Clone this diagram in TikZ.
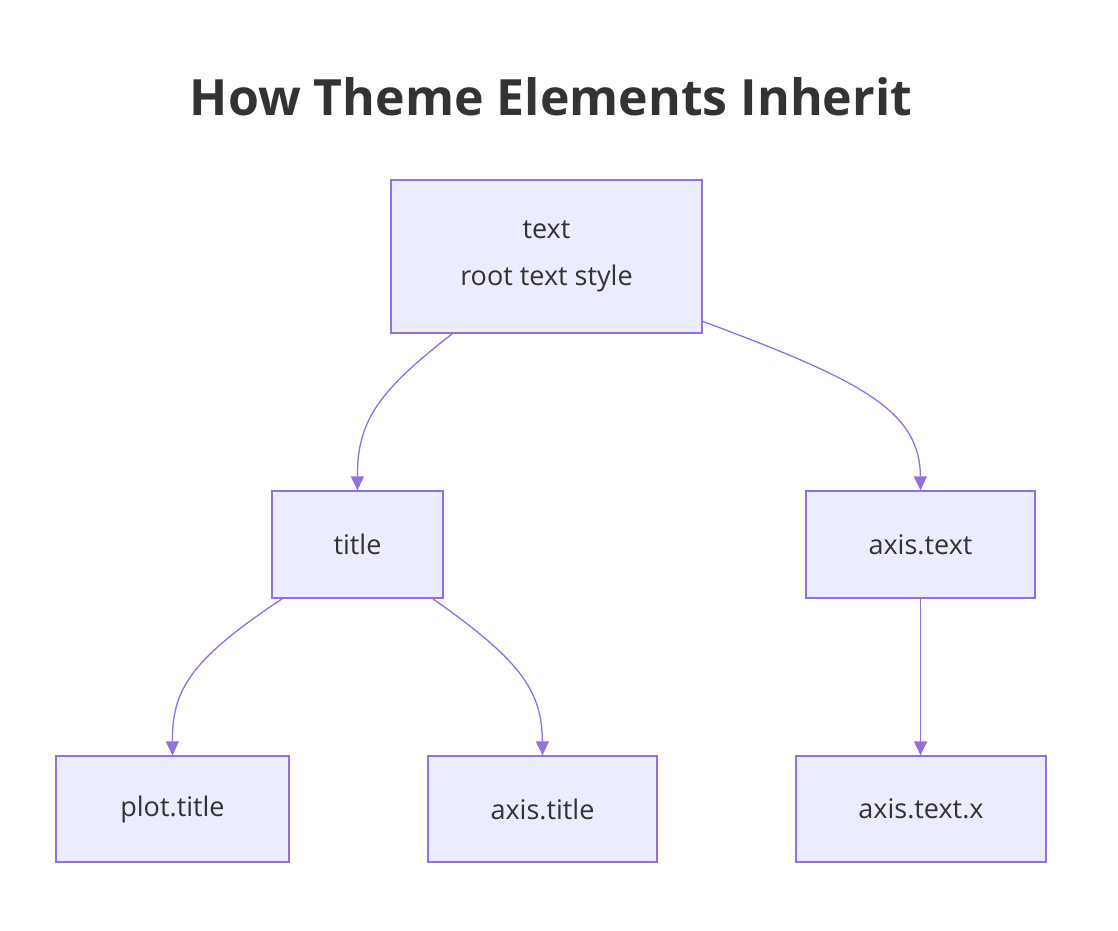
\documentclass[tikz,border=0pt]{standalone}
\usepackage{fontspec}
\setmainfont{Open Sans}
\usetikzlibrary{calc,arrows.meta}
\definecolor{bx}{HTML}{ECECFF}
\definecolor{ln}{HTML}{9370DB}
\definecolor{tx}{HTML}{333333}
\begin{document}
\begin{tikzpicture}[x=1pt,y=-1pt,
 box/.style={draw=ln,fill=bx,line width=1.3pt,text=tx,font=\fontsize{27}{47}\selectfont,align=center,inner sep=0pt},
 ed/.style={draw=ln,line width=1.3pt,-{Triangle[length=14pt,width=13pt]}}]
\useasboundingbox (0,0) rectangle (1118,930);
\node[text=tx,font=\fontsize{50}{58}\selectfont\bfseries] (h) at (551,97) {How Theme Elements Inherit};
\node[box,minimum width=311,minimum height=153] (t) at (546.5,256.5) {text\\root text style};
\node[box,minimum width=171,minimum height=107] (ti) at (357.5,544.5) {title};
\node[box,minimum width=229,minimum height=107] (at) at (920.5,544.5) {axis.text};
\node[box,minimum width=233,minimum height=106] (pt) at (172.5,809) {plot.title};
\node[box,minimum width=229,minimum height=106] (atl) at (542.5,809) {axis.title};
\node[box,minimum width=250,minimum height=106] (ax) at (921,809) {axis.text.x};
\draw[ed] ($(t.south west)+(62,0)$) .. controls (380,390) and (357,420) .. ($(ti.north)$);
\draw[ed] ($(t.north east)+(0,142)$) .. controls (860,380) and (920,410) .. ($(at.north)$);
\draw[ed] ($(ti.south west)+(11,0)$) .. controls (190,660) and (172,690) .. ($(pt.north)$);
\draw[ed] ($(ti.south east)+(-11,0)$) .. controls (520,660) and (542,690) .. ($(atl.north)$);
\draw[ed] (at.south) -- (at.south |- ax.north);
\end{tikzpicture}
\end{document}
